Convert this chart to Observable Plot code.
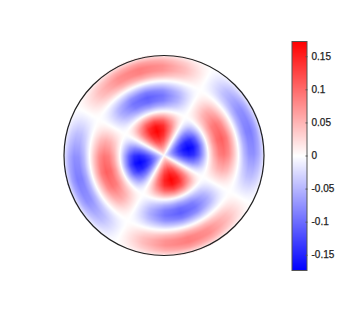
<!DOCTYPE html>
<html><head><meta charset="utf-8">
<script src="https://cdn.jsdelivr.net/npm/d3@7"></script>
<script src="https://cdn.jsdelivr.net/npm/@observablehq/plot@0.6"></script>
<style>
html,body{margin:0;padding:0;background:#fff}
#wrap{position:relative;width:357px;height:322px;overflow:hidden}
#wrap svg{position:absolute;left:0;top:0;background:transparent;display:block}
#wrap text{stroke:#222;stroke-width:.25px}
</style></head><body><div id="wrap"></div>
<script>
const radii = [0,5,10,15,20,25,30,35,40,45,50,55,60,65,70,75,80,85,90,95,100];
const angles = [29,44,59,74,89,104,119,134,149,164,179,194,209,224,239,254,269,284,299,314,329,344,359,374];
// thousandths, one row per radius, one column per angle (clockwise on the page)
const valueRows = [
[0,0,0,0,0,0,0,0,0,0,0,0,0,0,0,0,0,0,0,0,0,0,0,0],
[0,23,39,45,39,23,0,-23,-39,-45,-39,-23,0,23,39,45,39,23,0,-23,-39,-45,-39,-23],
[0,45,78,90,78,45,0,-45,-78,-90,-78,-45,0,45,78,90,78,45,0,-45,-78,-90,-78,-45],
[0,65,113,130,113,65,0,-65,-113,-130,-113,-65,0,65,113,130,113,65,0,-65,-113,-130,-113,-65],
[0,79,137,158,137,79,0,-79,-137,-158,-137,-79,0,79,137,158,137,79,0,-79,-137,-158,-137,-79],
[0,86,149,172,149,86,0,-86,-149,-172,-149,-86,0,86,149,172,149,86,0,-86,-149,-172,-149,-86],
[0,81,140,162,140,81,0,-81,-140,-162,-140,-81,0,81,140,162,140,81,0,-81,-140,-162,-140,-81],
[0,61,106,122,106,61,0,-61,-106,-122,-106,-61,0,61,106,122,106,61,0,-61,-106,-122,-106,-61],
[0,30,51,59,51,30,0,-30,-51,-59,-51,-30,0,30,51,59,51,30,0,-30,-51,-59,-51,-30],
[0,-6,-10,-12,-10,-6,0,6,10,12,10,6,0,-6,-10,-12,-10,-6,0,6,10,12,10,6],
[0,-33,-56,-65,-56,-33,0,33,56,65,56,33,0,-33,-56,-65,-56,-33,0,33,56,65,56,33],
[0,-50,-87,-100,-87,-50,0,50,87,100,87,50,0,-50,-87,-100,-87,-50,0,50,87,100,87,50],
[0,-55,-94,-109,-94,-55,0,55,94,109,94,55,0,-55,-94,-109,-94,-55,0,55,94,109,94,55],
[0,-45,-77,-89,-77,-45,0,45,77,89,77,45,0,-45,-77,-89,-77,-45,0,45,77,89,77,45],
[0,-23,-39,-45,-39,-23,0,23,39,45,39,23,0,-23,-39,-45,-39,-23,0,23,39,45,39,23],
[0,3,5,6,5,3,0,-3,-5,-6,-5,-3,0,3,5,6,5,3,0,-3,-5,-6,-5,-3],
[0,28,48,56,48,28,0,-28,-48,-56,-48,-28,0,28,48,56,48,28,0,-28,-48,-56,-48,-28],
[0,43,74,85,74,43,0,-43,-74,-85,-74,-43,0,43,74,85,74,43,0,-43,-74,-85,-74,-43],
[0,44,76,88,76,44,0,-44,-76,-88,-76,-44,0,44,76,88,76,44,0,-44,-76,-88,-76,-44],
[0,32,55,64,55,32,0,-32,-55,-64,-55,-32,0,32,55,64,55,32,0,-32,-55,-64,-55,-32],
[0,10,17,20,17,10,0,-10,-17,-20,-17,-10,0,10,17,20,17,10,0,-10,-17,-20,-17,-10]
];
const colorLimit = 0.173;
const colorStops = ["#0000ff","#ffffff","#ff0000"];
const barTicks = [-0.15,-0.1,-0.05,0,0.05,0.1,0.15];
const barLevels = [-0.173,0.173];

// Shade each raster pixel from the four surrounding cells of the read table.
function shade(x, y) {
  const r = Math.hypot(x, y), rMax = radii[radii.length-1];
  if (r > rMax + 1) return NaN;
  const rr = Math.min(r, rMax);
  const i = Math.min(d3.bisectRight(radii, rr) - 1, radii.length - 2);
  const n = angles.length, step = angles[1] - angles[0];
  let a = Math.atan2(-y, x) * 180 / Math.PI - angles[0];
  a = ((a % 360) + 360) % 360;
  const j = Math.floor(a / step) % n, j1 = (j + 1) % n;
  const t = (rr - radii[i]) / (radii[i+1] - radii[i]), u = a / step - Math.floor(a / step);
  const lo = valueRows[i][j] * (1-u) + valueRows[i][j1] * u;
  const hi = valueRows[i+1][j] * (1-u) + valueRows[i+1][j1] * u;
  return (lo * (1-t) + hi * t) / 1000;
}
const color = {type:"linear",domain:[-colorLimit,colorLimit],clamp:true,
  interpolate:d3.piecewise(d3.interpolateRgb,colorStops)};

const disk = Plot.plot({
  width:357,height:322,marginLeft:63.5,marginRight:93.5,marginTop:55,marginBottom:67,
  x:{domain:[-100,100],axis:null},y:{domain:[-100,100],axis:null},color,
  marks:[
    Plot.raster({fill:shade,x1:-100,x2:100,y1:-100,y2:100,pixelSize:1}),
    Plot.dot([{x:0,y:0}],{x:"x",y:"y",r:100,stroke:"#222",strokeWidth:1.2,fill:"none"})
  ]
});

const bar = Plot.plot({
  width:357,height:322,marginLeft:291.5,marginRight:50.5,marginTop:41,marginBottom:52,
  x:{domain:[0,1],axis:null},y:{domain:barLevels,axis:null},color,
  marks:[
    Plot.raster({fill:(x,y)=>y,x1:0,x2:1,y1:barLevels[0],y2:barLevels[1],pixelSize:1}),
    Plot.frame({stroke:"#555",strokeWidth:1}),
    Plot.axisY({anchor:"right",ticks:barTicks,tickSize:-2,tickPadding:6.5,stroke:"#555",
      tickFormat:d=>String(d),textAnchor:"start",fontSize:10,fill:"#222",label:null})
  ]
});
bar.style.fontFamily = "'Liberation Sans',Arial,sans-serif";
const wrap = document.getElementById("wrap");
wrap.append(disk,bar);
</script></body></html>
